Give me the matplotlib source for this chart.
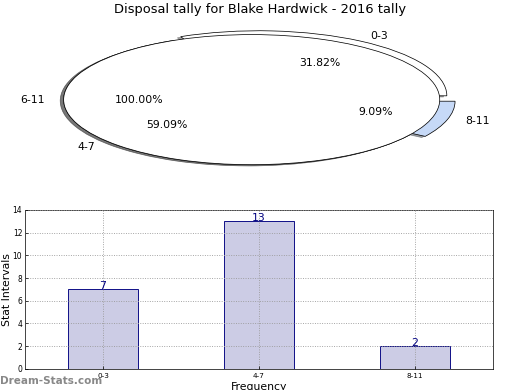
import matplotlib
matplotlib.use("Agg")
import matplotlib.pyplot as plt
import numpy as np

# data
categories = ["0-3", "4-7", "8-11"]
counts = [7, 13, 2]
pie_colors = ["white", "white", "#c6d9f7"]
overlay_label = ["6-11"]
overlay_value = [22]
title = "Disposal tally for Blake Hardwick - 2016 tally"

fig = plt.figure(figsize=(8, 6), dpi=65)

# pie on top (stretched, not equal aspect)
ax_pie = fig.add_axes([0.032, 0.536, 0.904, 0.417])
ax_pie.pie(counts, labels=categories, colors=pie_colors, explode=(0.07, 0, 0.085),
           autopct="%1.2f%%", shadow=True, startangle=0,
           wedgeprops=dict(edgecolor="black", linewidth=0.8),
           textprops=dict(fontsize=12))
ax_pie.pie(overlay_value, labels=overlay_label, colors=["white"],
           autopct="%1.2f%%", shadow=True, startangle=0,
           wedgeprops=dict(edgecolor="black", linewidth=0.8),
           textprops=dict(fontsize=12))
ax_pie.set_aspect("auto")
ax_pie.set_xlim(-1.25, 1.25)
ax_pie.set_ylim(-1.25, 1.25)
fig.text(0.5, 0.975, title, ha="center", va="center", fontsize=14.4)

# bar chart below
ax = fig.add_axes([0.048, 0.054, 0.9, 0.408])
x = np.arange(len(categories))
ax.bar(x, counts, width=0.45, color="#ccccE5", edgecolor="#000080", linewidth=1)
for xi, c in zip(x, counts):
    ax.text(xi, c, str(c), ha="center", va="baseline", color="#000080", fontsize=12)
ax.set_xlim(-0.5, 2.5)
ax.set_ylim(0, 14)
ax.set_xticks(x)
ax.set_xticklabels(categories, fontsize=8)
ax.set_yticks(range(0, 15, 2))
ax.tick_params(axis="y", labelsize=8.5, pad=3)
ax.tick_params(axis="x", pad=5)
ax.tick_params(direction="in", length=3)
ax.grid(True, linestyle=":", color="#999999", linewidth=1)
ax.set_axisbelow(False)
ax.set_xlabel("Frequency", fontsize=12, labelpad=3)
ax.set_ylabel("Stat Intervals", fontsize=12, labelpad=1)

fig.text(0.0, 0.022, "Dream-Stats.com", fontsize=11.5, color="#888888",
         fontweight="bold", ha="left", va="center")

fig.savefig("out.png", dpi=65)
